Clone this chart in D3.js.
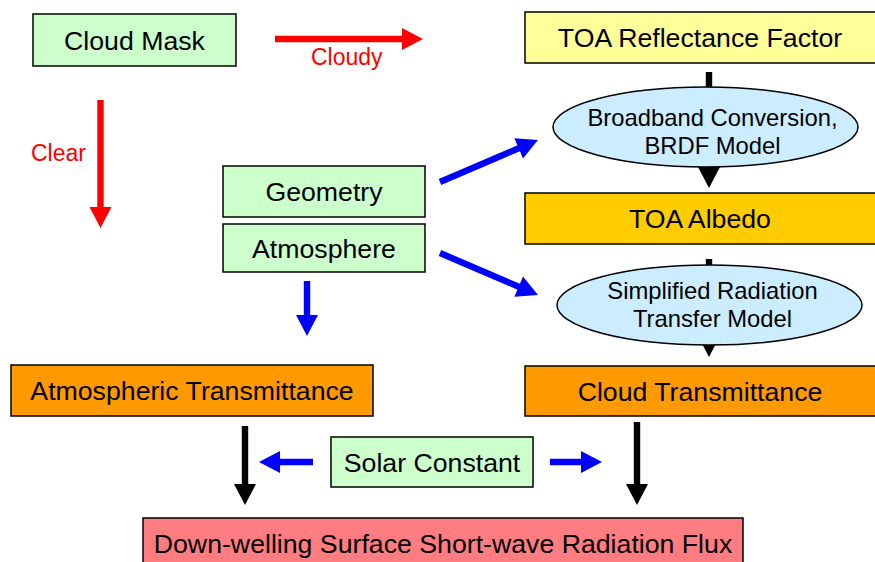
<!DOCTYPE html>
<html lang="en">
<head>
    <meta charset="UTF-8">
    <title>Flux flowchart</title>
    <script src="https://cdn.jsdelivr.net/npm/d3@7"></script>
    <style>
        body { margin: 0; background: #fff; }
        text { font-family: "Liberation Sans", Arial, sans-serif; }
    </style>
</head>
<body>
<script>
    // node texts
    var boxNames = ["Cloud Mask", "TOA Reflectance Factor", "Geometry", "Atmosphere", "TOA Albedo",
        "Atmospheric Transmittance", "Cloud Transmittance", "Solar Constant",
        "Down-welling Surface Short-wave Radiation Flux"];
    var ellipseNames = [["Broadband Conversion,", "BRDF Model"], ["Simplified Radiation", "Transfer Model"]];
    var branchLabels = ["Cloudy", "Clear"];

    var w = 875, h = 562;

    // layout, kept apart from the texts
    var boxLayout = [
        {x: 33, y: 14, w: 203, h: 52, fill: "#CCFFCC"},
        {x: 525, y: 12, w: 360, h: 51, fill: "#FFFF99"},
        {x: 223, y: 166, w: 202, h: 51, fill: "#CCFFCC"},
        {x: 223, y: 224, w: 202, h: 48, fill: "#CCFFCC"},
        {x: 525, y: 193, w: 360, h: 51, fill: "#FFCC00"},
        {x: 11, y: 365, w: 362, h: 51, fill: "#FF9900"},
        {x: 525, y: 366, w: 360, h: 50, fill: "#FF9900"},
        {x: 331, y: 437, w: 202, h: 50, fill: "#CCFFCC"},
        {x: 143, y: 518, w: 600, h: 60, fill: "#FF7C80"}
    ];
    var ellipseLayout = [
        {cx: 705.5, cy: 127, rx: 152.5, ry: 40, tx: 712.5, base: 126},
        {cx: 709.5, cy: 305, rx: 152.5, ry: 40, tx: 712.5, base: 299}
    ];
    // arrows: from -> to (tip), colour
    var arrows = [
        {x1: 275, y1: 39, x2: 423, y2: 39, c: "#FF0000"},
        {x1: 100.5, y1: 100, x2: 100.5, y2: 228, c: "#FF0000"},
        {x1: 709, y1: 72, x2: 709, y2: 188, c: "#000000"},
        {x1: 709, y1: 259, x2: 709, y2: 357, c: "#000000"},
        {x1: 440, y1: 182, x2: 538, y2: 140, c: "#0000FF"},
        {x1: 440, y1: 253, x2: 538, y2: 295, c: "#0000FF"},
        {x1: 307, y1: 281, x2: 307, y2: 336, c: "#0000FF"},
        {x1: 245, y1: 426, x2: 245, y2: 505, c: "#000000"},
        {x1: 637, y1: 422, x2: 637, y2: 505, c: "#000000"},
        {x1: 313, y1: 462, x2: 259, y2: 462, c: "#0000FF"},
        {x1: 550, y1: 462, x2: 602, y2: 462, c: "#0000FF"}
    ];

    var svg = d3.select("body").append("svg")
        .attr("width", w)
        .attr("height", h);

    function arrowPath(a) {
        var dx = a.x2 - a.x1, dy = a.y2 - a.y1;
        var len = Math.sqrt(dx * dx + dy * dy);
        var ux = dx / len, uy = dy / len, px = -uy, py = ux;
        var sw = 3.2, hl = 21, hw = 11;
        var bx = a.x2 - ux * hl, by = a.y2 - uy * hl;
        var pts = [
            [a.x1 + px * sw, a.y1 + py * sw],
            [bx + px * sw, by + py * sw],
            [bx + px * hw, by + py * hw],
            [a.x2, a.y2],
            [bx - px * hw, by - py * hw],
            [bx - px * sw, by - py * sw],
            [a.x1 - px * sw, a.y1 - py * sw]
        ];
        return d3.line()(pts) + "Z";
    }

    svg.selectAll("path.arrow")
        .data(arrows)
        .enter()
        .append("path")
        .attr("class", "arrow")
        .attr("d", arrowPath)
        .attr("fill", function (d) { return d.c; });

    var boxes = svg.selectAll("g.box")
        .data(boxNames)
        .enter()
        .append("g")
        .attr("class", "box");
    boxes.append("rect")
        .attr("x", function (d, i) { return boxLayout[i].x; })
        .attr("y", function (d, i) { return boxLayout[i].y; })
        .attr("width", function (d, i) { return boxLayout[i].w; })
        .attr("height", function (d, i) { return boxLayout[i].h; })
        .attr("fill", function (d, i) { return boxLayout[i].fill; })
        .attr("stroke", "#000")
        .attr("stroke-width", 1.5);
    boxes.append("text")
        .text(function (d) { return d; })
        .attr("x", function (d, i) {
            var b = boxLayout[i];
            // boxes running off the right edge: centre on the visible part
            return b.x + Math.min(b.w, w - b.x) / 2;
        })
        .attr("y", function (d, i) {
            var b = boxLayout[i];
            return i === 8 ? 553 : b.y + b.h / 2 + 9.5;
        })
        .attr("text-anchor", "middle")
        .attr("font-size", "26.7px")
        .attr("fill", "#000");

    var ells = svg.selectAll("g.ell")
        .data(ellipseNames)
        .enter()
        .append("g")
        .attr("class", "ell");
    ells.append("ellipse")
        .attr("cx", function (d, i) { return ellipseLayout[i].cx; })
        .attr("cy", function (d, i) { return ellipseLayout[i].cy; })
        .attr("rx", function (d, i) { return ellipseLayout[i].rx; })
        .attr("ry", function (d, i) { return ellipseLayout[i].ry; })
        .attr("fill", "#CCECFF")
        .attr("stroke", "#000")
        .attr("stroke-width", 1.5);
    ells.each(function (d, i) {
        var e = ellipseLayout[i];
        d3.select(this).selectAll("text")
            .data(d)
            .enter()
            .append("text")
            .text(function (t) { return t; })
            .attr("x", e.tx)
            .attr("y", function (t, j) { return e.base + j * 28; })
            .attr("text-anchor", "middle")
            .attr("font-size", "23.8px")
            .attr("fill", "#000");
    });

    svg.selectAll("text.branch")
        .data(branchLabels)
        .enter()
        .append("text")
        .attr("class", "branch")
        .text(function (d) { return d; })
        .attr("x", function (d, i) { return i === 0 ? 311 : 31; })
        .attr("y", function (d, i) { return i === 0 ? 65 : 161; })
        .attr("font-size", "23px")
        .attr("fill", "#FF0000");
</script>
</body>
</html>
